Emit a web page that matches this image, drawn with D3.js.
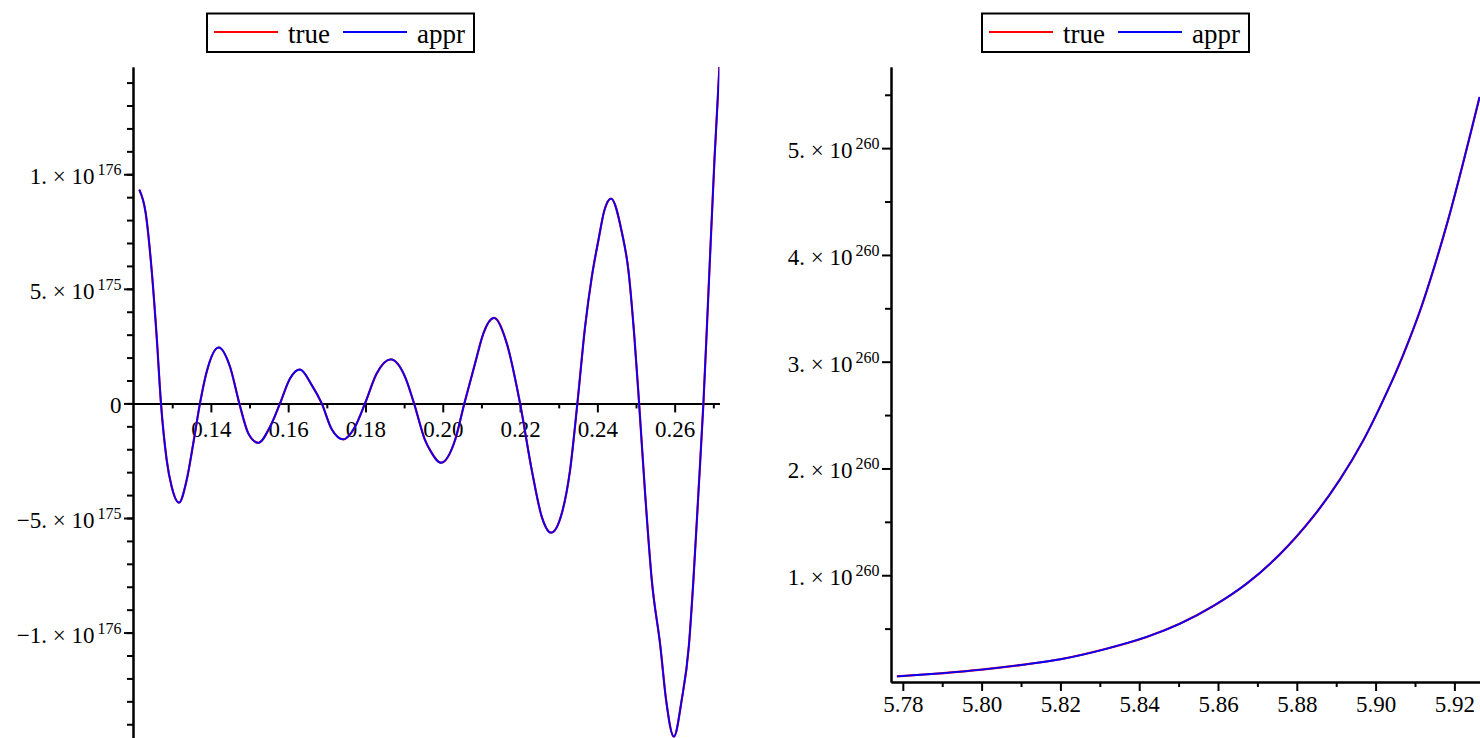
<!DOCTYPE html>
<html>
<head>
<meta charset="utf-8">
<script src="https://cdn.jsdelivr.net/npm/d3@7"></script>
<style>
  body { margin: 0; background: #fff; }
  svg { display: block; font-family: "Liberation Serif", "DejaVu Serif", serif; }
</style>
</head>
<body>
<div id="chart"></div>
<script>
// Left plot: x values and the two series
const leftX = [0.12147, 0.12313, 0.12468, 0.12598, 0.12709, 0.12857, 0.12986, 0.13175, 0.13374, 0.13545,
  0.13718, 0.13892, 0.14202, 0.14495, 0.14736, 0.14969, 0.15228, 0.15530, 0.15789, 0.16048,
  0.16306, 0.16609, 0.16868, 0.17127, 0.17427, 0.17730, 0.17989, 0.18292, 0.18654, 0.19024,
  0.19257, 0.19541, 0.19671, 0.19955, 0.20318, 0.20558, 0.20835, 0.21050, 0.21327, 0.21656,
  0.22000, 0.22303, 0.22562, 0.22802, 0.23079, 0.23294, 0.23483, 0.23682, 0.23856, 0.24027,
  0.24182, 0.24355, 0.24632, 0.24803, 0.24958, 0.25080, 0.25235, 0.25408, 0.25631, 0.25778,
  0.25980, 0.26182, 0.26366, 0.26485, 0.26614, 0.26744, 0.26873, 0.27029, 0.27158];
const leftTrue = [9.33e175, 8.31e175, 5.81e175, 2.90e175, 0, -2.47e175, -3.64e175, -4.33e175, -3.34e175, -1.74e175,
  0, 1.38e175, 2.44e175, 1.60e175, 0, -1.31e175, -1.72e175, -1.02e175, 0, 1.09e175,
  1.48e175, 0.80e175, 0, -1.13e175, -1.57e175, -1.02e175, 0, 1.31e175, 1.92e175, 1.16e175,
  0, -1.60e175, -2.04e175, -2.59e175, -1.60e175, 0, 1.74e175, 3.05e175, 3.73e175, 2.62e175,
  0, -2.91e175, -4.95e175, -5.64e175, -4.80e175, -2.91e175, 0, 3.34e175, 5.52e175, 7.12e175,
  8.43e175, 8.94e175, 7.48e175, 5.81e175, 2.90e175, 0, -3.92e175, -7.71e175, -10.61e175, -12.94e175,
  -14.54e175, -12.94e175, -10.61e175, -7.71e175, -3.92e175, 0, 4.80e175, 10.61e175, 14.68e175];
const leftAppr = leftTrue.slice(); // the two curves overlap everywhere

// Right plot
const rightX = [5.7785, 5.7904, 5.8000, 5.8102, 5.8200, 5.8309, 5.8419, 5.8504, 5.8588, 5.8673,
  5.8758, 5.8842, 5.8910, 5.8969, 5.9043, 5.9074, 5.9115, 5.9150, 5.9185, 5.9220, 5.9264];
const rightTrue = [0.053e260, 0.084e260, 0.116e260, 0.160e260, 0.213e260, 0.304e260, 0.422e260, 0.547e260,
  0.712e260, 0.922e260, 1.20e260, 1.55e260, 1.90e260, 2.265e260, 2.83e260, 3.10e260, 3.50e260,
  3.90e260, 4.34e260, 4.83e260, 5.48e260];
const rightAppr = rightTrue.slice();

// Tick values and labels
const leftXMajor = [0.14, 0.16, 0.18, 0.20, 0.22, 0.24, 0.26];
const leftXMinor = [0.13, 0.15, 0.17, 0.19, 0.21, 0.23, 0.25, 0.27];
const leftYMajor = [-1e176, -5e175, 0, 5e175, 1e176];
const leftYLabels = [["\u22121. \u00d7 10", "176"], ["\u22125. \u00d7 10", "175"], ["0", ""],
  ["5. \u00d7 10", "175"], ["1. \u00d7 10", "176"]];
const leftYMinor = d3.range(-14, 15).map(k => k * 1e175);

const rightXMajor = [5.78, 5.80, 5.82, 5.84, 5.86, 5.88, 5.90, 5.92];
const rightXMinor = [5.79, 5.81, 5.83, 5.85, 5.87, 5.89, 5.91];
const rightYMajor = [1e260, 2e260, 3e260, 4e260, 5e260];
const rightYLabels = [["1. \u00d7 10", "260"], ["2. \u00d7 10", "260"], ["3. \u00d7 10", "260"],
  ["4. \u00d7 10", "260"], ["5. \u00d7 10", "260"]];
const rightYMinor = [0.5e260, 1.5e260, 2.5e260, 3.5e260, 4.5e260, 5.5e260];

const seriesNames = ["true", "appr"];
const seriesColors = ["#ff0000", "#0000ff"];

const W = 1480, H = 738;
const svg = d3.select("#chart").append("svg")
    .attr("width", W)
    .attr("height", H);

function drawPanel(opt) {
    const x = d3.scaleLinear().domain(opt.xDomain).range(opt.xRange);
    const y = d3.scaleLinear().domain(opt.yDomain).range(opt.yRange);
    const g = svg.append("g");
    const axisY0 = y(0);

    // clip for the curves
    const clipId = "clip" + opt.id;
    svg.append("clipPath").attr("id", clipId)
        .append("rect")
        .attr("x", opt.xRange[0]).attr("y", opt.yRange[1])
        .attr("width", opt.xRange[1] - opt.xRange[0])
        .attr("height", opt.yRange[0] - opt.yRange[1]);

    // x axis (minor then major)
    g.append("g")
        .attr("transform", `translate(0,${axisY0})`)
        .call(d3.axisBottom(x).tickValues(opt.xMinor).tickSize(5).tickSizeOuter(0).tickFormat(""));
    const xa = g.append("g")
        .attr("transform", `translate(0,${axisY0})`)
        .call(d3.axisBottom(x).tickValues(opt.xMajor).tickSize(9).tickSizeOuter(0).tickFormat(d3.format(".2f")));
    xa.selectAll("text")
        .attr("y", opt.xLabelDy).attr("dy", null)
        .style("font-size", "23px")
        .style("font-family", "Liberation Serif")
        .attr("fill", "#000");

    // y axis
    g.append("g")
        .attr("transform", `translate(${opt.xRange[0]},0)`)
        .call(d3.axisLeft(y).tickValues(opt.yMinor).tickSize(6).tickSizeOuter(0).tickFormat(""));
    g.append("g")
        .attr("transform", `translate(${opt.xRange[0]},0)`)
        .call(d3.axisLeft(y).tickValues(opt.yMajor).tickSize(9).tickSizeOuter(0).tickFormat(""));

    g.selectAll(".domain, .tick line").attr("stroke", "#000").attr("stroke-width", 2);

    // y labels with exponents
    opt.yMajor.forEach((v, i) => {
        const lab = opt.yLabels[i];
        const t = g.append("text")
            .attr("x", opt.xRange[0] - 11.5)
            .attr("y", y(v) + opt.yLabelDy)
            .attr("text-anchor", "end")
            .style("font-size", "23px")
            .attr("fill", "#000");
        t.append("tspan").text(lab[0]);
        if (lab[1]) {
            t.append("tspan").attr("dx", 3).attr("dy", -9).style("font-size", "16px").text(lab[1]);
        }
    });

    // curves
    const line = d3.line()
        .x(d => x(d[0]))
        .y(d => y(d[1]))
        .curve(opt.curve);
    const cg = g.append("g").attr("clip-path", `url(#${clipId})`);
    opt.series.forEach((s, i) => {
        cg.append("path")
            .datum(opt.xs.map((xv, j) => [xv, s[j]]))
            .attr("fill", "none")
            .attr("stroke", seriesColors[i])
            .attr("stroke-width", i === 0 ? 2.2 : 1.8)
            .attr("d", line);
    });

    // legend
    const lg = g.append("g").attr("transform", `translate(${opt.legendX},13.5)`);
    lg.append("rect")
        .attr("width", 267).attr("height", 38.5)
        .attr("fill", "#fff").attr("stroke", "#000").attr("stroke-width", 2);
    const lineStart = [7, 136], textStart = [81, 210];
    seriesNames.forEach((n, i) => {
        lg.append("line")
            .attr("x1", lineStart[i]).attr("x2", lineStart[i] + 64)
            .attr("y1", 18.5).attr("y2", 18.5)
            .attr("stroke", seriesColors[i]).attr("stroke-width", 2);
        lg.append("text")
            .attr("x", textStart[i]).attr("y", 29.5)
            .style("font-size", "27px")
            .attr("fill", "#000")
            .text(n);
    });
}

drawPanel({
    id: "L",
    xDomain: [0.11985, 0.27155], xRange: [133, 719.3],
    yDomain: [-14.6e175, 14.68e175], yRange: [738, 67],
    xMajor: leftXMajor, xMinor: leftXMinor, xLabelDy: 34,
    yMajor: leftYMajor, yMinor: leftYMinor, yLabels: leftYLabels, yLabelDy: 10,
    xs: leftX, series: [leftTrue, leftAppr],
    curve: d3.curveMonotoneX,
    legendX: 207
});

drawPanel({
    id: "R",
    xDomain: [5.7770, 5.9265], xRange: [891, 1480],
    yDomain: [0, 5.76e260], yRange: [682, 67],
    xMajor: rightXMajor, xMinor: rightXMinor, xLabelDy: 30,
    yMajor: rightYMajor, yMinor: rightYMinor, yLabels: rightYLabels, yLabelDy: 10,
    xs: rightX, series: [rightTrue, rightAppr],
    curve: d3.curveCatmullRom.alpha(0.5),
    legendX: 982
});
</script>
</body>
</html>
